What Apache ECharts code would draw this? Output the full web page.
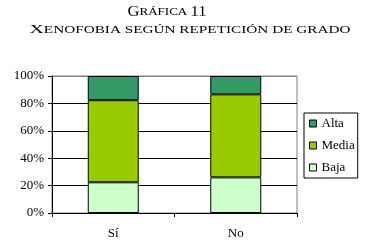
<!DOCTYPE html>
<html>
<head>
<meta charset="utf-8">
<script src="https://cdn.jsdelivr.net/npm/echarts@6/dist/echarts.min.js"></script>
<style>
  html, body { margin: 0; padding: 0; background: #fff; }
  #chart { width: 374px; height: 246px; }
</style>
</head>
<body>
<div id="chart"></div>
<script>
const categories = ['Sí', 'No'];
const baja = [22.4, 26.0];
const media = [59.9, 60.6];
const alta = [17.7, 13.4];
const yTicks = [0, 20, 40, 60, 80, 100];

const serif = 'Liberation Serif';
const chart = echarts.init(document.getElementById('chart'), null, { renderer: 'canvas' });

// versalitas a mano: mayúscula grande + resto pequeño
function capsRich(big, small) {
  return {
    b: { fontFamily: serif, fontSize: big, color: '#000' },
    s: { fontFamily: serif, fontSize: small, color: '#000' }
  };
}

// el título original va muy espaciado; se estira horizontalmente hasta su ancho
const measure = document.createElement('canvas').getContext('2d');
function capsWidth(parts, big, small) {
  let w = 0;
  parts.forEach(p => {
    measure.font = (p[0] === 'b' ? big : small) + 'px "' + serif + '"';
    w += measure.measureText(p[1]).width;
  });
  return w;
}
function capsText(parts) {
  return parts.map(p => '{' + p[0] + '|' + p[1] + '}').join('');
}
const line1 = [['b', 'G'], ['s', 'RÁFICA '], ['b', '11']];
const line2 = [['b', 'X'], ['s', 'ENOFOBIA SEGÚN REPETICIÓN DE GRADO']];

chart.setOption({
  animation: false,
  backgroundColor: '#fff',
  graphic: [
    {
      type: 'text', x: 167, y: 12, scaleX: 79 / capsWidth(line1, 14, 11),
      style: { text: capsText(line1), rich: capsRich(14, 11), align: 'center', verticalAlign: 'middle' }
    },
    {
      type: 'text', x: 190, y: 30, scaleX: 321 / capsWidth(line2, 13, 10),
      style: { text: capsText(line2), rich: capsRich(13, 10), align: 'center', verticalAlign: 'middle' }
    }
  ],
  grid: {
    left: 52, right: 77, top: 76, bottom: 33,
    show: true, borderColor: '#808080', borderWidth: 1
  },
  legend: {
    orient: 'vertical',
    left: 304, top: 113,
    data: ['Alta', 'Media', 'Baja'],
    icon: 'rect', itemWidth: 7, itemHeight: 7, itemGap: 9,
    padding: [4, 3, 4, 5],
    borderColor: '#000', borderWidth: 1,
    itemStyle: { borderColor: '#000', borderWidth: 1 },
    textStyle: { fontFamily: serif, fontSize: 13, color: '#000' }
  },
  xAxis: {
    type: 'category',
    data: categories,
    axisLine: { lineStyle: { color: '#000', width: 1 } },
    axisTick: { show: true, length: 4, lineStyle: { color: '#000' } },
    axisLabel: { fontFamily: serif, fontSize: 13, color: '#000', margin: 14 }
  },
  yAxis: {
    type: 'value',
    min: yTicks[0], max: yTicks[yTicks.length - 1], interval: 20,
    axisLine: { show: true, lineStyle: { color: '#000', width: 1 } },
    axisTick: { show: true, length: 4, lineStyle: { color: '#000' } },
    axisLabel: { fontFamily: serif, fontSize: 13, color: '#000', margin: 8, formatter: '{value}%' },
    splitLine: { show: true, lineStyle: { color: ['#000', '#000', '#000', '#000', '#000', '#808080'], width: 1 } }
  },
  series: [
    { name: 'Baja', type: 'bar', stack: 'g', data: baja, barWidth: 51,
      itemStyle: { color: '#CCFFCC', borderColor: '#000', borderWidth: 1 } },
    { name: 'Media', type: 'bar', stack: 'g', data: media, barWidth: 51,
      itemStyle: { color: '#99CC00', borderColor: '#000', borderWidth: 1 } },
    { name: 'Alta', type: 'bar', stack: 'g', data: alta, barWidth: 51,
      itemStyle: { color: '#339966', borderColor: '#000', borderWidth: 1 } }
  ]
});
</script>
</body>
</html>
